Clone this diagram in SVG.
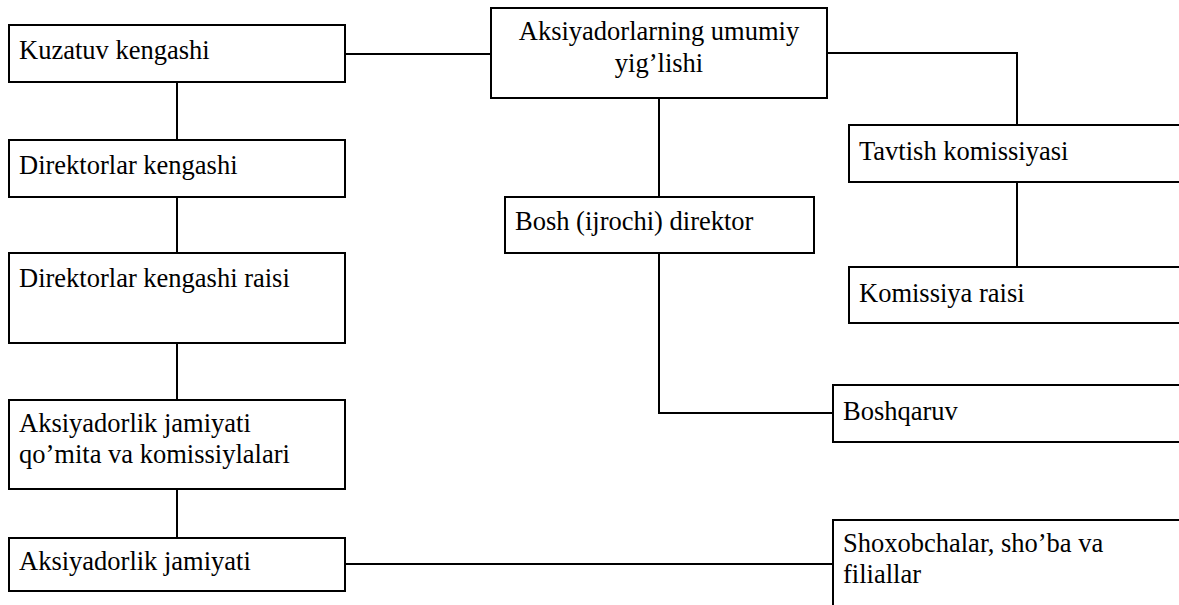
<svg xmlns="http://www.w3.org/2000/svg" width="1179" height="605" viewBox="0 0 1179 605">
<style>
.box{fill:#fff;stroke:#000;stroke-width:2}
.ln{fill:none;stroke:#000;stroke-width:2}
.t{font-family:'Liberation Serif',serif;font-size:26.5px;fill:#000}
</style>
<rect width="1179" height="605" fill="#fff"/>
<g id="connectors">
<line class="ln" x1="345" y1="54" x2="491" y2="54"/>
<polyline class="ln" points="827,53 1017,53 1017,125"/>
<line class="ln" x1="1017" y1="182" x2="1017" y2="267"/>
<line class="ln" x1="659" y1="98" x2="659" y2="197"/>
<polyline class="ln" points="659,253 659,413 833,413"/>
<line class="ln" x1="177" y1="82" x2="177" y2="140"/>
<line class="ln" x1="177" y1="197" x2="177" y2="253"/>
<line class="ln" x1="177" y1="343" x2="177" y2="400"/>
<line class="ln" x1="177" y1="489" x2="177" y2="538"/>
<line class="ln" x1="345" y1="564" x2="833" y2="564"/>
</g>
<g id="kuzatuv">
<rect class="box" x="9" y="25" width="336" height="57"/>
<text class="t" x="19" y="59" font-family="Liberation Serif">Kuzatuv kengashi</text>
</g>
<g id="direktorlar">
<rect class="box" x="9" y="140" width="336" height="57"/>
<text class="t" x="19" y="174" font-family="Liberation Serif">Direktorlar kengashi</text>
</g>
<g id="raisi">
<rect class="box" x="9" y="253" width="336" height="90"/>
<text class="t" x="19" y="287" font-family="Liberation Serif">Direktorlar kengashi raisi</text>
</g>
<g id="qomita">
<rect class="box" x="9" y="400" width="336" height="89"/>
<text class="t" x="19" y="432" font-family="Liberation Serif">Aksiyadorlik jamiyati</text>
<text class="t" x="19" y="463" font-family="Liberation Serif">qo&#8217;mita va komissiylalari</text>
</g>
<g id="jamiyat">
<rect class="box" x="9" y="538" width="336" height="53"/>
<text class="t" x="19" y="570" font-family="Liberation Serif">Aksiyadorlik jamiyati</text>
</g>
<g id="umumiy">
<rect class="box" x="491" y="8" width="336" height="90"/>
<text class="t" x="659" y="40" text-anchor="middle" font-family="Liberation Serif">Aksiyadorlarning umumiy</text>
<text class="t" x="659" y="72" text-anchor="middle" font-family="Liberation Serif">yig&#8217;lishi</text>
</g>
<g id="bosh">
<rect class="box" x="505" y="197" width="309" height="56"/>
<text class="t" x="515" y="230" font-family="Liberation Serif">Bosh (ijrochi) direktor</text>
</g>
<g id="tavtish">
<rect class="box" x="849" y="125" width="360" height="57"/>
<text class="t" x="859" y="160" font-family="Liberation Serif">Tavtish komissiyasi</text>
</g>
<g id="komissiya">
<rect class="box" x="849" y="267" width="360" height="56"/>
<text class="t" x="859" y="302" font-family="Liberation Serif">Komissiya raisi</text>
</g>
<g id="boshqaruv">
<rect class="box" x="833" y="385" width="376" height="57"/>
<text class="t" x="843" y="420" font-family="Liberation Serif">Boshqaruv</text>
</g>
<g id="shoxobchalar">
<rect class="box" x="833" y="520" width="376" height="120"/>
<text class="t" x="843" y="552" font-family="Liberation Serif">Shoxobchalar, sho&#8217;ba va</text>
<text class="t" x="843" y="583" font-family="Liberation Serif">filiallar</text>
</g>
</svg>
